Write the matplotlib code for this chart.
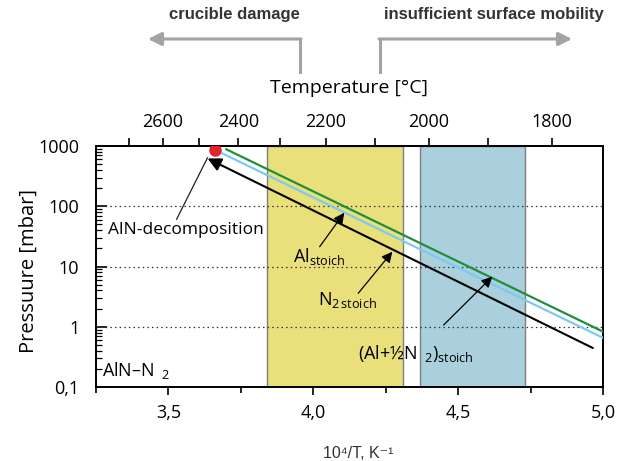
import matplotlib.pyplot as plt
from matplotlib.lines import Line2D
from matplotlib.patches import FancyArrowPatch
from matplotlib.ticker import LogLocator, NullFormatter
import numpy as np

plt.rcParams['font.family'] = ['Open Sans', 'DejaVu Sans']
plt.rcParams['mathtext.fontset'] = 'custom'
plt.rcParams['mathtext.rm'] = 'Open Sans'
plt.rcParams['mathtext.it'] = 'Open Sans:italic'
plt.rcParams['mathtext.bf'] = 'Open Sans:bold'

# equilibrium lines, end points (10^4/T, p in mbar)
x_green = [3.70, 5.0]
p_green = [880, 0.83]
x_blue = [3.675, 5.0]
p_blue = [800, 0.655]
x_black = [3.635, 4.965]
p_black = [621, 0.444]

# AlN decomposition point
x_dec = 3.66
p_dec = 860

# process windows (10^4/T)
yellow_band = [3.84, 4.31]
blue_band = [4.37, 4.73]

x_ticks = [3.5, 4.0, 4.5, 5.0]
x_ticklabels = ['3,5', '4,0', '4,5', '5,0']
p_ticks = [0.1, 1, 10, 100, 1000]
p_ticklabels = ['0,1', '1', '10', '100', '1000']
t_major = [2600, 2400, 2200, 2000, 1800]
t_minor = [2700, 2500, 2300, 2100, 1900]


def x_to_T(x):
    x = np.asarray(x, dtype=float)
    with np.errstate(divide='ignore'):
        return 1e4 / x - 273.15


def T_to_x(T):
    T = np.asarray(T, dtype=float)
    with np.errstate(divide='ignore'):
        return 1e4 / (T + 273.15)


fig = plt.figure(figsize=(6.27, 4.61), dpi=100)
ax = fig.add_axes([0.1531, 0.1605, 0.8086, 0.5228])

ax.axvspan(*yellow_band, facecolor='#e9e07c', edgecolor='#7f7f7f', lw=1, zorder=1)
ax.axvspan(*blue_band, facecolor='#aacfdd', edgecolor='#7f7f7f', lw=1, zorder=1)

for p in [1, 10, 100]:
    ax.axhline(p, color='#333333', ls=(0, (1.2, 2.5)), lw=0.9, zorder=2)

ax.plot(x_green, p_green, color='#1f8f3c', lw=1.6, zorder=3)
ax.plot(x_blue, p_blue, color='#7ec9f0', lw=1.6, zorder=3)
ax.annotate('', xy=(x_black[0], p_black[0]), xytext=(x_black[1], p_black[1]),
            arrowprops=dict(arrowstyle='-|>', color='black', lw=1.5,
                            mutation_scale=20, shrinkA=0, shrinkB=0), zorder=4)
ax.plot([x_dec], [p_dec], 'o', color='#e3222b', ms=8, zorder=5)

ax.set_yscale('log')
ax.set_xlim(3.25, 5.0)
ax.set_ylim(0.1, 1000)

ax.set_xticks(x_ticks)
ax.set_xticklabels(x_ticklabels)
ax.set_xticks([3.25, 3.75, 4.25, 4.75], minor=True)
ax.set_yticks(p_ticks)
ax.set_yticklabels(p_ticklabels)
ax.yaxis.set_minor_locator(LogLocator(base=10, subs=np.arange(2, 10), numticks=20))
ax.yaxis.set_minor_formatter(NullFormatter())
ax.tick_params(axis='x', which='major', direction='out', length=6, width=1.2,
               labelsize=13, pad=6)
ax.tick_params(axis='x', which='minor', direction='out', length=4, width=1.2)
ax.tick_params(axis='y', which='major', direction='in', length=8, width=1.2,
               labelsize=13, pad=12)
ax.tick_params(axis='y', which='minor', direction='in', length=4, width=0.9)
ax.tick_params(axis='y', which='both', right=False)
for s in ax.spines.values():
    s.set_linewidth(1.4)

ax.set_xlabel('10⁴/T, K⁻¹', family=['Liberation Sans', 'DejaVu Sans'],
              fontsize=11.5, color='#333333')
ax.xaxis.set_label_coords(0.517, -0.245)
ax.set_ylabel('Pressuure [mbar]', fontsize=14.5)
ax.yaxis.set_label_coords(-0.113, 0.48)

secax = ax.secondary_xaxis('top', functions=(x_to_T, T_to_x))
secax.set_xticks(t_major)
secax.set_xticks(t_minor, minor=True)
secax.tick_params(axis='x', which='both', direction='out', length=6, width=1.2,
                  labelsize=13, pad=5)
secax.spines['top'].set_linewidth(1.4)
secax.set_xlabel('Temperature [°C]', fontsize=14, labelpad=14)

# annotations
ax.annotate('AlN-decomposition', xy=(3.635, 640), xytext=(3.292, 40),
            fontsize=12.5, va='center', ha='left',
            arrowprops=dict(arrowstyle='-', color='#222222', lw=0.9,
                            shrinkA=0, shrinkB=0, relpos=(0.43, 1.0)))
ax.annotate('', xy=(4.107, 78), xytext=(4.022, 21.3),
            arrowprops=dict(arrowstyle='-|>', color='black', lw=0.9,
                            mutation_scale=16, shrinkA=0, shrinkB=0))
ax.text(3.929, 14.6, r'Al$_{\mathrm{stoich}}$', fontsize=13, va='center', ha='left')
ax.annotate('', xy=(4.273, 17.6), xytext=(4.155, 3.59),
            arrowprops=dict(arrowstyle='-|>', color='black', lw=0.9,
                            mutation_scale=16, shrinkA=0, shrinkB=0))
ax.text(4.016, 2.78, r'N$_{2\,\mathrm{stoich}}$', fontsize=13, va='center', ha='left')
ax.annotate('', xy=(4.618, 6.78), xytext=(4.45, 1.07),
            arrowprops=dict(arrowstyle='-|>', color='black', lw=0.9,
                            mutation_scale=16, shrinkA=0, shrinkB=0))
ax.text(4.155, 0.366, r'(Al+½N$_{\ \ 2}$)$_{\mathrm{stoich}}$', fontsize=13,
        va='center', ha='left')
ax.text(3.271, 0.19, r'AlN–N$_{\ \ 2}$', fontsize=13, va='center', ha='left')

# gray arrows and headings on top
gray = '#a3a3a3'
W, H = 627.0, 461.0
fig.add_artist(Line2D([300 / W, 300 / W], [1 - 72 / H, 1 - 39 / H],
                      transform=fig.transFigure, color=gray, lw=2.2))
fig.add_artist(Line2D([380 / W, 380 / W], [1 - 72 / H, 1 - 39 / H],
                      transform=fig.transFigure, color=gray, lw=2.2))
fig.add_artist(FancyArrowPatch((301 / W, 1 - 39 / H), (148 / W, 1 - 39 / H),
                               transform=fig.transFigure, arrowstyle='-|>',
                               mutation_scale=20, color=gray, lw=2.2,
                               shrinkA=0, shrinkB=0))
fig.add_artist(FancyArrowPatch((379 / W, 1 - 39 / H), (572 / W, 1 - 39 / H),
                               transform=fig.transFigure, arrowstyle='-|>',
                               mutation_scale=20, color=gray, lw=2.2,
                               shrinkA=0, shrinkB=0))
head_font = ['Liberation Sans Narrow', 'Liberation Sans', 'DejaVu Sans']
fig.text(234 / W, 1 - 15 / H, 'crucible damage', family=head_font,
         fontweight='bold', fontsize=12, color='#333333', ha='center', va='center')
fig.text(494 / W, 1 - 15 / H, 'insufficient surface mobility', family=head_font,
         fontweight='bold', fontsize=12, color='#333333', ha='center', va='center')

fig.savefig('out.png', dpi=100)
